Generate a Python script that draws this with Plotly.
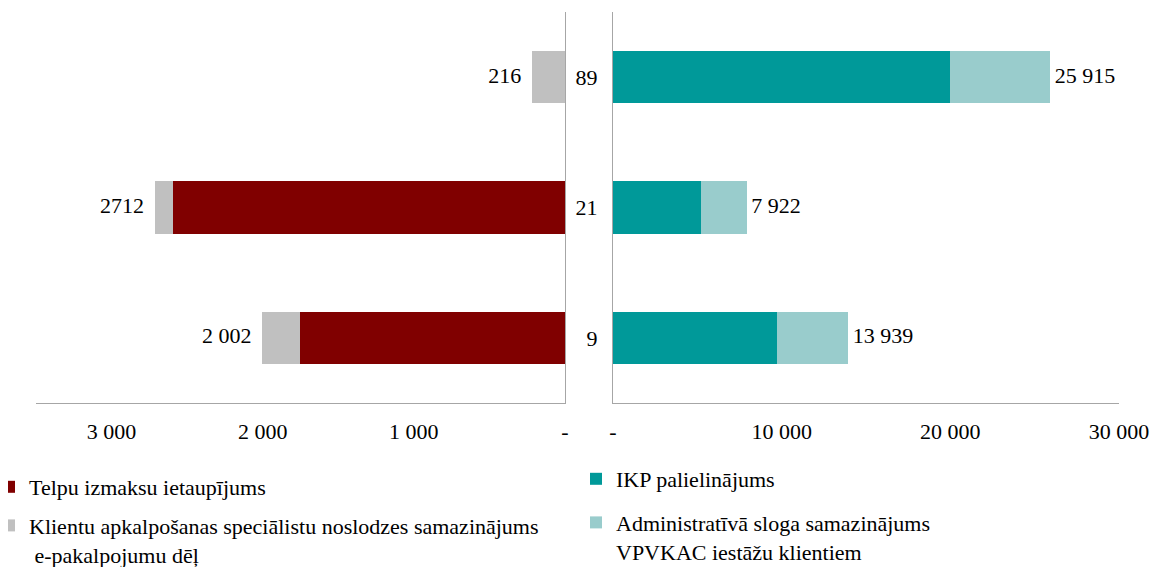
import plotly.graph_objects as go

# Categories (shown as the middle labels), bottom to top
categories = ["9", "21", "89"]

# Left panel series
telpu = [1752, 2592, 0]            # Telpu izmaksu ietaupījums
klientu = [250, 120, 216]          # Klientu apkalpošanas speciālistu noslodzes samazinājums
left_labels = ["2 002", "2712", "216"]

# Right panel series
ikp = [9735, 5206, 19980]          # IKP palielinājums
admin = [4204, 2716, 5935]         # Administratīvā sloga samazinājums
right_labels = ["13 939", "7 922", "25 915"]

left_ticks = [3000, 2000, 1000, 0]
left_ticktext = ["3 000", "2 000", "1 000", "-"]
right_ticks = [0, 10000, 20000, 30000]
right_ticktext = ["-", "10 000", "20 000", "30 000"]

FONT = "Liberation Serif, Times New Roman, serif"
RED = "#800000"
GRAY = "#C0C0C0"
TEAL = "#009999"
LTEAL = "#99CCCC"
LINE = "#A6A6A6"

# The page body adds an 8px margin, so the figure is 16px smaller than the window
W, H = 1142, 559
OFF = 8


def px(x):
    return (x - OFF) / W


def py(y):
    return 1 - (y - OFF) / H


fig = go.Figure()

fig.add_trace(go.Bar(
    y=categories, x=telpu, orientation="h", name="Telpu izmaksu ietaupījums",
    marker=dict(color=RED, line=dict(width=0)), width=0.4,
    xaxis="x", yaxis="y", legend="legend", legendgroup="a"))
fig.add_trace(go.Bar(
    y=categories, x=klientu, orientation="h",
    name="Klientu apkalpošanas speciālistu noslodzes samazinājums<br> e-pakalpojumu dēļ",
    marker=dict(color=GRAY, line=dict(width=0)), width=0.4,
    xaxis="x", yaxis="y", legend="legend", legendgroup="b"))
fig.add_trace(go.Scatter(
    y=categories, x=[a + b for a, b in zip(telpu, klientu)], mode="markers+text",
    marker=dict(size=16, opacity=0),
    text=left_labels, textposition="middle left",
    textfont=dict(family=FONT, size=22, color="black"),
    showlegend=False, xaxis="x", yaxis="y", hoverinfo="skip"))

fig.add_trace(go.Bar(
    y=categories, x=ikp, orientation="h", name="IKP palielinājums",
    marker=dict(color=TEAL, line=dict(width=0)), width=0.4,
    xaxis="x2", yaxis="y2", legend="legend2", legendgroup="c"))
fig.add_trace(go.Bar(
    y=categories, x=admin, orientation="h",
    name="Administratīvā sloga samazinājums<br>VPVKAC iestāžu klientiem",
    marker=dict(color=LTEAL, line=dict(width=0)), width=0.4,
    xaxis="x2", yaxis="y2", legend="legend2", legendgroup="d"))
fig.add_trace(go.Scatter(
    y=categories, x=[a + b for a, b in zip(ikp, admin)], mode="markers+text",
    marker=dict(size=6, opacity=0),
    text=right_labels, textposition="middle right",
    textfont=dict(family=FONT, size=22, color="black"),
    showlegend=False, xaxis="x2", yaxis="y2", hoverinfo="skip"))

ydom = [py(403), py(12)]
tickfont = dict(family=FONT, size=22, color="black")

fig.update_layout(
    width=W, height=H,
    margin=dict(l=0, r=0, t=0, b=0, autoexpand=False),
    paper_bgcolor="white", plot_bgcolor="white",
    barmode="stack", bargap=0.6,
    font=dict(family=FONT, color="black"),
    xaxis=dict(domain=[px(36), px(565)], range=[3500, 0], anchor="y",
               tickvals=left_ticks, ticktext=left_ticktext, tickfont=tickfont,
               showline=True, linecolor=LINE, linewidth=1, showgrid=False,
               zeroline=False, ticks="", ticklabelstandoff=9, fixedrange=True,
               ticklabeloverflow="allow"),
    yaxis=dict(domain=ydom, anchor="x", side="right", showline=True,
               linecolor=LINE, linewidth=1, showticklabels=False, showgrid=False,
               zeroline=False, ticks="", type="category",
               categoryorder="array", categoryarray=categories, range=[-0.5, 2.5]),
    xaxis2=dict(domain=[px(613), px(1119)], range=[0, 30000], anchor="y2",
                tickvals=right_ticks, ticktext=right_ticktext, tickfont=tickfont,
                showline=True, linecolor=LINE, linewidth=1, showgrid=False,
                zeroline=False, ticks="", ticklabelstandoff=9, fixedrange=True,
                ticklabeloverflow="allow"),
    yaxis2=dict(domain=ydom, anchor="x2", side="left", showline=True,
                linecolor=LINE, linewidth=1, showgrid=False, zeroline=False,
                ticks="", type="category", categoryorder="array",
                categoryarray=categories, range=[-0.5, 2.5],
                tickfont=dict(family=FONT, size=22, color="black"),
                ticklabelstandoff=10),
    legend=dict(x=px(-11), y=py(466), xanchor="left", yanchor="top",
                font=dict(family=FONT, size=22, color="black"), valign="top",
                traceorder="grouped", tracegroupgap=7, bgcolor="rgba(0,0,0,0)"),
    legend2=dict(x=px(576), y=py(458), xanchor="left", yanchor="top",
                 font=dict(family=FONT, size=22, color="black"), valign="top",
                 traceorder="grouped", tracegroupgap=12, bgcolor="rgba(0,0,0,0)"),
)

fig.write_html("out.html")
